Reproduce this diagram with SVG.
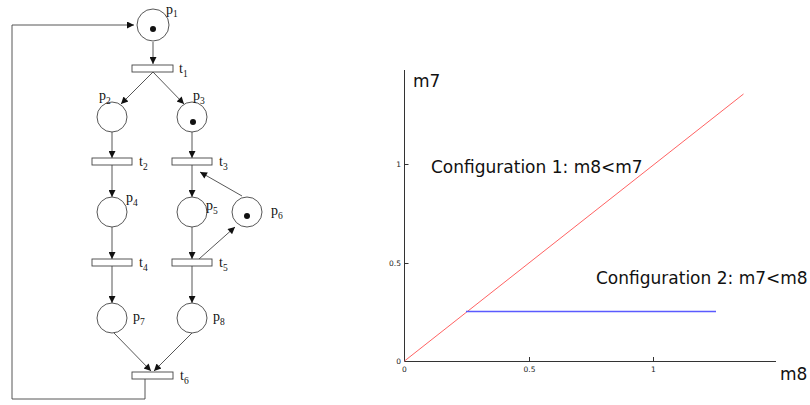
<svg xmlns="http://www.w3.org/2000/svg" width="810" height="405" viewBox="0 0 810 405">
<style>
.pl{fill:#fff;stroke:#444;stroke-width:0.9}
.tr{fill:#fff;stroke:#444;stroke-width:0.9}
.tok{fill:#111}
.arc{fill:none;stroke:#444;stroke-width:0.9}
.lb{font-family:"Liberation Serif","Times New Roman",serif;font-size:14px;fill:#111}
.sb{font-size:9.5px}
.ax{fill:none;stroke:#333;stroke-width:1}
.tk{font-family:"DejaVu Sans",sans-serif;font-size:7.5px;fill:#222}
.big{font-family:"DejaVu Sans",sans-serif;font-size:17px;fill:#111}
</style>
<defs>
<marker id="ah" viewBox="0 0 10 10" refX="10" refY="5" markerWidth="9" markerHeight="7" markerUnits="userSpaceOnUse" orient="auto">
<path d="M0,0 L10,5 L0,10 z" fill="#111"/>
</marker>
</defs>
<rect width="810" height="405" fill="#fff"/>
<g id="connectors">
<line class="arc" x1="153" y1="42" x2="153" y2="64" marker-end="url(#ah)"/>
<line class="arc" x1="153" y1="72" x2="121" y2="104" marker-end="url(#ah)"/>
<line class="arc" x1="153" y1="72" x2="184" y2="104" marker-end="url(#ah)"/>
<line class="arc" x1="112" y1="132" x2="112" y2="158" marker-end="url(#ah)"/>
<line class="arc" x1="192" y1="132" x2="192" y2="158" marker-end="url(#ah)"/>
<line class="arc" x1="112" y1="165" x2="112" y2="197" marker-end="url(#ah)"/>
<line class="arc" x1="192" y1="165" x2="192" y2="197" marker-end="url(#ah)"/>
<line class="arc" x1="112" y1="227" x2="112" y2="259" marker-end="url(#ah)"/>
<line class="arc" x1="192" y1="227" x2="192" y2="259" marker-end="url(#ah)"/>
<line class="arc" x1="112" y1="266" x2="112" y2="303" marker-end="url(#ah)"/>
<line class="arc" x1="192" y1="266" x2="192" y2="303" marker-end="url(#ah)"/>
<line class="arc" x1="242" y1="196" x2="200" y2="172" marker-end="url(#ah)"/>
<line class="arc" x1="199" y1="259" x2="235" y2="227" marker-end="url(#ah)"/>
<line class="arc" x1="114" y1="333" x2="151" y2="371" marker-end="url(#ah)"/>
<line class="arc" x1="192" y1="333" x2="154" y2="371" marker-end="url(#ah)"/>
<polyline class="arc" points="145,379 145,399 12,399 12,25 134,25" marker-end="url(#ah)"/>
</g>
<g id="p1"><circle class="pl" cx="153" cy="25" r="16"/><circle class="tok" cx="153" cy="29" r="3"/><text class="lb" x="166" y="14">p<tspan class="sb" dy="3">1</tspan></text></g>
<g id="t1"><rect class="tr" x="132" y="65" width="41" height="7"/><text class="lb" x="179" y="73">t<tspan class="sb" dy="4">1</tspan></text></g>
<g id="p2"><circle class="pl" cx="112" cy="117" r="15"/><text class="lb" x="99" y="100">p<tspan class="sb" dy="4">2</tspan></text></g>
<g id="p3"><circle class="pl" cx="192" cy="117" r="15"/><circle class="tok" cx="193" cy="122" r="3"/><text class="lb" x="193" y="100">p<tspan class="sb" dy="4">3</tspan></text></g>
<g id="t2"><rect class="tr" x="92" y="158" width="40" height="7"/><text class="lb" x="139" y="166">t<tspan class="sb" dy="4">2</tspan></text></g>
<g id="t3"><rect class="tr" x="172" y="158" width="40" height="7"/><text class="lb" x="219" y="166">t<tspan class="sb" dy="4">3</tspan></text></g>
<g id="p4"><circle class="pl" cx="112" cy="212" r="15"/><text class="lb" x="126" y="202">p<tspan class="sb" dy="4">4</tspan></text></g>
<g id="p5"><circle class="pl" cx="192" cy="212" r="15"/><text class="lb" x="206" y="210">p<tspan class="sb" dy="4">5</tspan></text></g>
<g id="p6"><circle class="pl" cx="247" cy="212" r="15"/><circle class="tok" cx="247" cy="216" r="3"/><text class="lb" x="271" y="215">p<tspan class="sb" dy="4">6</tspan></text></g>
<g id="t4"><rect class="tr" x="92" y="259" width="40" height="7"/><text class="lb" x="139" y="267">t<tspan class="sb" dy="4">4</tspan></text></g>
<g id="t5"><rect class="tr" x="172" y="259" width="40" height="7"/><text class="lb" x="219" y="267">t<tspan class="sb" dy="4">5</tspan></text></g>
<g id="p7"><circle class="pl" cx="112" cy="318" r="15"/><text class="lb" x="133" y="321">p<tspan class="sb" dy="4">7</tspan></text></g>
<g id="p8"><circle class="pl" cx="192" cy="318" r="15"/><text class="lb" x="213" y="321">p<tspan class="sb" dy="4">8</tspan></text></g>
<g id="t6"><rect class="tr" x="132" y="372" width="41" height="7"/><text class="lb" x="180" y="380">t<tspan class="sb" dy="4">6</tspan></text></g>
<g id="chart">
<path class="ax" d="M404.5,70 V361.5 H776"/>
<path class="ax" d="M404.5,263.5 H408.5 M404.5,164.5 H408.5 M529.5,361.5 V357 M653.5,361.5 V357"/>
<text class="tk" x="401" y="167" text-anchor="end">1</text>
<text class="tk" x="401" y="266" text-anchor="end">0.5</text>
<text class="tk" x="401" y="364" text-anchor="end">0</text>
<text class="tk" x="404.5" y="372" text-anchor="middle">0</text>
<text class="tk" x="529.5" y="372" text-anchor="middle">0.5</text>
<text class="tk" x="653.5" y="372" text-anchor="middle">1</text>
<line x1="404.5" y1="361" x2="743.5" y2="94" stroke="#ff5050" stroke-width="0.9"/>
<line x1="466" y1="311.5" x2="716" y2="311.5" stroke="#5a5aff" stroke-width="1.3"/>
<text class="big" x="413" y="87">m7</text>
<text class="big" x="780" y="380">m8</text>
<text class="big" x="431" y="173">Configuration 1: m8&lt;m7</text>
<text class="big" x="596" y="284">Configuration 2: m7&lt;m8</text>
</g>
</svg>
